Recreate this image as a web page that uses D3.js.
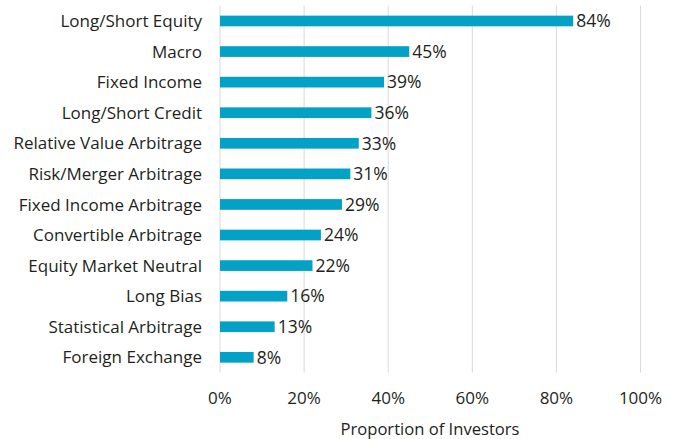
<!DOCTYPE html>
<html><head><meta charset="utf-8">
<script src="https://cdn.jsdelivr.net/npm/d3@7"></script>
<style>body{margin:0;background:#fff}svg{display:block}text{font-family:"Open Sans",sans-serif;fill:#231f20}</style>
</head><body><svg id="c" width="677" height="439"></svg>
<script>
const categories = ["Long/Short Equity","Macro","Fixed Income","Long/Short Credit","Relative Value Arbitrage","Risk/Merger Arbitrage","Fixed Income Arbitrage","Convertible Arbitrage","Equity Market Neutral","Long Bias","Statistical Arbitrage","Foreign Exchange"];
const values = [84,45,39,36,33,31,29,24,22,16,13,8];
const ticks = [0,20,40,60,80,100];
const axisTitle = "Proportion of Investors";

const svg = d3.select("#c");
const x = d3.scaleLinear().domain([0,100]).range([220,640.5]);
const y = d3.scaleBand().domain(categories).range([5.7,372.6]).paddingInner(0.65).paddingOuter(0.325);

svg.append("g").selectAll("line").data(ticks).join("line")
  .attr("x1",d=>x(d)).attr("x2",d=>x(d)).attr("y1",5.7).attr("y2",372.6)
  .attr("stroke","#d9d9d9").attr("stroke-width",1);

svg.append("g").selectAll("rect").data(values).join("rect")
  .attr("x",x(0)).attr("y",(d,i)=>y(categories[i]))
  .attr("width",d=>x(d)-x(0)).attr("height",y.bandwidth())
  .attr("fill","#04a1c6");

svg.append("g").selectAll("text").data(values).join("text")
  .attr("x",d=>x(d)+3).attr("y",(d,i)=>y(categories[i])+y.bandwidth()/2)
  .attr("dy","0.36em").attr("font-size",17.5).text(d=>d+"%");

svg.append("g").selectAll("text").data(categories).join("text")
  .attr("x",202).attr("y",d=>y(d)+y.bandwidth()/2).attr("dy","0.36em")
  .attr("text-anchor","end").attr("font-size",17).text(d=>d);

svg.append("g").selectAll("text").data(ticks).join("text")
  .attr("x",d=>x(d)).attr("y",403.5).attr("text-anchor","middle")
  .attr("font-size",17).text(d=>d+"%");

svg.append("text").attr("x",430).attr("y",434.5).attr("text-anchor","middle")
  .attr("font-size",16.6).text(axisTitle);
</script></body></html>
